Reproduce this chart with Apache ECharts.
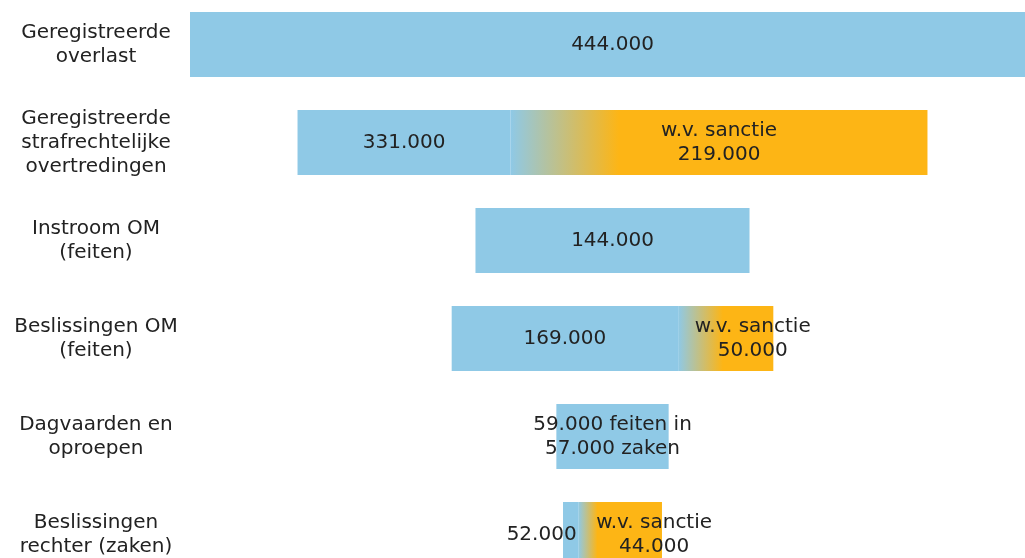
<!DOCTYPE html>
<html>
<head>
<meta charset="utf-8">
<script src="https://cdn.jsdelivr.net/npm/echarts@6/dist/echarts.min.js"></script>
<style>
  html, body { margin: 0; padding: 0; background: #fff; }
  #funnel_chart { width: 1025px; height: 558px; }
</style>
</head>
<body>
<div id="funnel_chart"></div>
<script>
  // data
  var categories = [
    'Geregistreerde\noverlast',
    'Geregistreerde\nstrafrechtelijke\novertredingen',
    'Instroom OM\n(feiten)',
    'Beslissingen OM\n(feiten)',
    'Dagvaarden en\noproepen',
    'Beslissingen\nrechter (zaken)'
  ];
  var totals = [444000, 331000, 144000, 169000, 59000, 52000];
  var sanctions = [0, 219000, 0, 50000, 0, 44000];
  var totalLabels = ['444.000', '331.000', '144.000', '169.000', '59.000 feiten in\n57.000 zaken', '52.000'];
  var sanctionLabels = ['', 'w.v. sanctie\n219.000', '', 'w.v. sanctie\n50.000', '', 'w.v. sanctie\n44.000'];

  var BLUE = '#8fc9e6';
  var ORANGE = '#fdb515';
  var maxTotal = Math.max.apply(null, totals);

  // how far into the orange part the blue->orange blend runs, per row
  var blendEnd = [0, 0.26, 0, 0.47, 0, 0.23];
  var blueLabelOffset = [0, 0, 0, 0, 0, -29];
  var sanctionLabelOffset = [0, 0, 0, 27, 0, 34];

  var offsetData = totals.map(function (t) { return (maxTotal - t) / 2; });
  var blueData = totals.map(function (t, i) {
    return {
      value: t - sanctions[i],
      label: { offset: [blueLabelOffset[i], 0] }
    };
  });
  var orangeData = sanctions.map(function (s, i) {
    return {
      value: s,
      itemStyle: {
        color: new echarts.graphic.LinearGradient(0, 0, 1, 0, [
          { offset: 0, color: BLUE },
          { offset: blendEnd[i], color: ORANGE },
          { offset: 1, color: ORANGE }
        ])
      },
      label: { show: s > 0, offset: [sanctionLabelOffset[i], 0] }
    };
  });

  var labelStyle = {
    show: true,
    position: 'inside',
    color: '#222',
    fontFamily: 'DejaVu Sans',
    fontSize: 20,
    lineHeight: 24
  };

  var chart = echarts.init(document.getElementById('funnel_chart'));
  chart.setOption({
    animation: false,
    // the top bar runs past the right edge of the picture
    grid: { left: 190, right: -10, top: -4.5, height: 588, outerBoundsMode: 'none', containLabel: false },
    xAxis: { type: 'value', min: 0, max: maxTotal, show: false },
    yAxis: {
      type: 'category',
      inverse: true,
      data: categories,
      axisLine: { show: false },
      axisTick: { show: false },
      splitLine: { show: false },
      axisLabel: {
        align: 'center',
        margin: 94,
        color: '#222',
        fontFamily: 'DejaVu Sans',
        fontSize: 20,
        lineHeight: 24
      }
    },
    series: [
      {
        type: 'bar',
        stack: 'f',
        barWidth: 65,
        silent: true,
        itemStyle: { color: 'transparent' },
        data: offsetData
      },
      {
        type: 'bar',
        stack: 'f',
        barWidth: 65,
        itemStyle: { color: BLUE },
        label: Object.assign({}, labelStyle, {
          formatter: function (p) { return totalLabels[p.dataIndex]; }
        }),
        data: blueData
      },
      {
        type: 'bar',
        stack: 'f',
        barWidth: 65,
        itemStyle: { color: ORANGE },
        label: Object.assign({}, labelStyle, {
          formatter: function (p) { return sanctionLabels[p.dataIndex]; }
        }),
        data: orangeData
      }
    ]
  });
</script>
</body>
</html>
